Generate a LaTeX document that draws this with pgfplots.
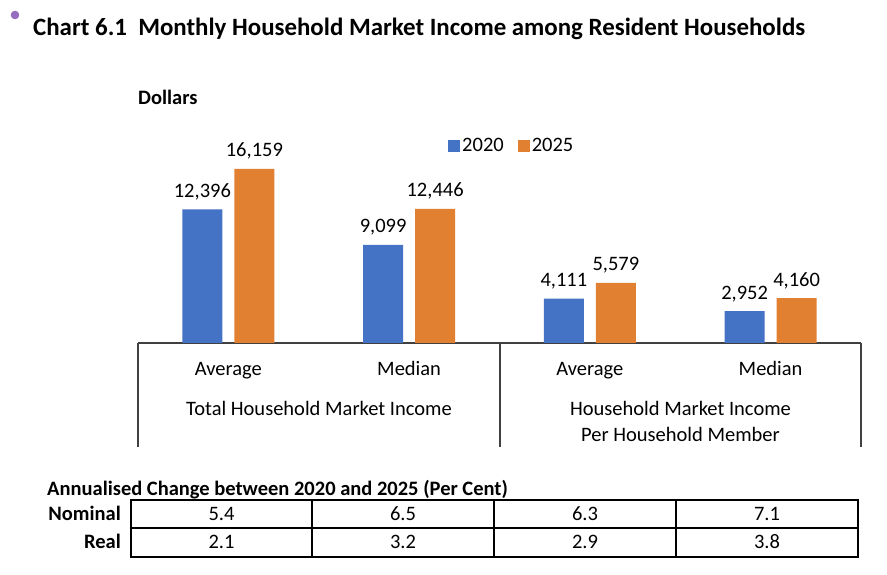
\documentclass[border=0pt]{standalone}
\usepackage{pgfplots}
\pgfplotsset{compat=1.18}
\usepackage{fontspec}
\setmainfont{Carlito}
\definecolor{c2020}{RGB}{68,114,196}
\definecolor{c2025}{RGB}{226,128,50}
\definecolor{dotpurple}{RGB}{150,108,190}
\definecolor{rule}{RGB}{64,64,64}
\newcommand{\bodyfont}{\fontsize{20.5}{24}\selectfont}
\newcommand{\boldfont}{\fontsize{20.5}{24}\selectfont\bfseries}
\begin{document}
\begin{tikzpicture}[x=1pt,y=1pt]
\useasboundingbox (0,0) rectangle (887,575);
% heading
\fill[dotpurple] (15,560) circle (4.3);
\node[anchor=west, inner sep=0, font=\fontsize{24.9}{28}\selectfont\bfseries] at (33,546)
  {Chart 6.1\ \ Monthly Household Market Income among Resident Households};
\node[anchor=west, inner sep=0, font=\boldfont] at (138,478) {Dollars};

\begin{axis}[
  at={(138pt,232pt)}, anchor=south west,
  scale only axis, width=723pt, height=215.4pt,
  xmin=-0.5, xmax=3.5, ymin=0, ymax=20000,
  axis x line*=bottom, axis y line=none,
  x axis line style={-, draw=rule, line width=1.2pt},
  xtick={0,1,2,3},
  xticklabels={Average,Median,Average,Median},
  major tick length=0pt,
  xticklabel style={font=\bodyfont, anchor=base, yshift=-32.5pt},
  ytick=\empty,
  nodes near coords,
  every node near coord/.append style={font=\bodyfont, text=black, yshift=6pt},
  /pgf/number format/.cd, 1000 sep={,}, assume math mode=true, /pgfplots/.cd,
  legend style={at={(0.517,0.915)}, anchor=center, draw=none, fill=none,
    font=\bodyfont, legend columns=2,
    /tikz/every even column/.append style={column sep=12pt}},
  legend image code/.code={\fill[#1] (0pt,-6pt) rectangle (12pt,6pt);},
]
\addplot[ybar, bar width=40pt, bar shift=-26pt, fill=c2020, draw=none,
  every node near coord/.append style={xshift=-26pt}]
  coordinates {(0,12396) (1,9099) (2,4111) (3,2952)};
\addplot[ybar, bar width=40pt, bar shift=26pt, fill=c2025, draw=none,
  every node near coord/.append style={xshift=26pt}]
  coordinates {(0,16159) (1,12446) (2,5579) (3,4160)};
\legend{2020,2025}
\end{axis}

% group frame below the category axis
\draw[rule, line width=1.2pt] (138,232) -- (138,128);
\draw[rule, line width=1.2pt] (500,232) -- (500,128);
\draw[rule, line width=1.2pt] (861,232) -- (861,128);
\node[font=\bodyfont, inner sep=0, anchor=base] at (319,159.5) {Total Household Market Income};
\node[font=\bodyfont, inner sep=0, anchor=base] at (680.5,159.5) {Household Market Income};
\node[font=\bodyfont, inner sep=0, anchor=base] at (680.5,133.5) {Per Household Member};

% annualised change table
\node[anchor=base west, inner sep=0, font=\boldfont] at (47,79.5)
  {Annualised Change between 2020 and 2025 (Per Cent)};
\draw[black, line width=1.2pt] (131,18) rectangle (858,75);
\draw[black, line width=1.2pt] (131,47) -- (858,47);
\foreach \xx in {312,494,676} \draw[black, line width=1.2pt] (\xx,18) -- (\xx,75);
\node[anchor=base east, inner sep=0, font=\boldfont] at (121,54.5) {Nominal};
\node[anchor=base east, inner sep=0, font=\boldfont] at (121,26.5) {Real};
\foreach \cx/\nv/\rv in {221.5/5.4/2.1, 403/6.5/3.2, 585/6.3/2.9, 767/7.1/3.8} {
  \node[font=\bodyfont, inner sep=0, anchor=base] at (\cx,54.5) {\nv};
  \node[font=\bodyfont, inner sep=0, anchor=base] at (\cx,26.5) {\rv};
}
\end{tikzpicture}
\end{document}
